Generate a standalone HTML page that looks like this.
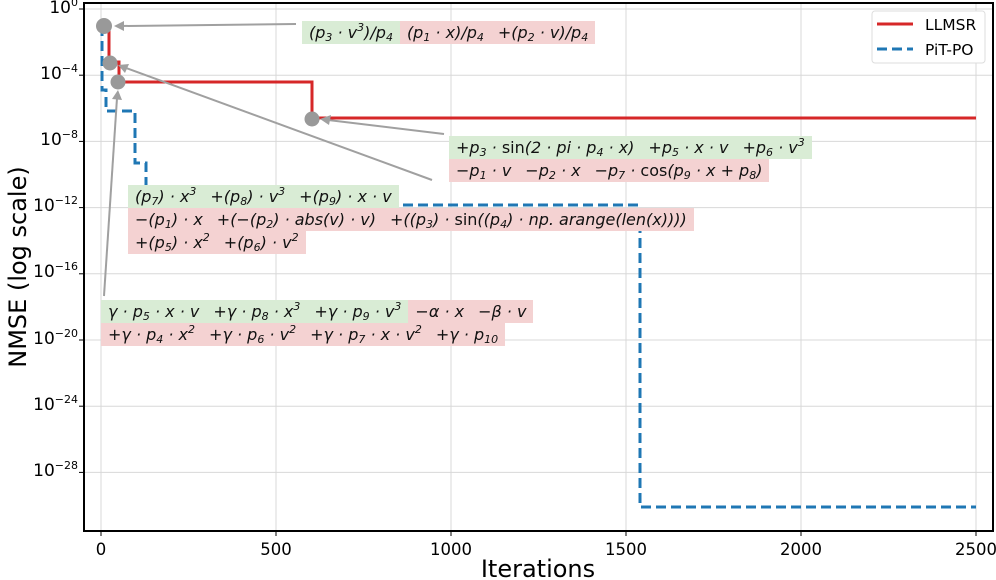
<!DOCTYPE html>
<html><head><meta charset="utf-8"><style>
body{margin:0;background:#fff;width:996px;height:580px;overflow:hidden;position:relative;font-family:"DejaVu Sans","Liberation Sans",sans-serif}
.row{position:absolute;display:flex;font-size:16px;font-style:italic;color:#111;white-space:nowrap}
.row span{padding:1px 7px;line-height:21px;height:21px}
.row span span{padding:0;background:none}
.g{background:#d9ecd5}.p{background:#f4d2d2}
.n{font-style:normal}
sup{font-size:11px;vertical-align:7px;line-height:0}
sub{font-size:11px;vertical-align:-3px;line-height:0}
.yl{position:absolute;right:918px;font-size:17px;color:#000}
.xl{position:absolute;top:540px;font-size:16.5px;width:60px;text-align:center}
</style></head><body>
<svg width="996" height="580" style="position:absolute;left:0;top:0">
<g stroke="#d8d8d8" stroke-width="1">
<line x1="101" y1="3" x2="101" y2="531"/><line x1="276" y1="3" x2="276" y2="531"/><line x1="451" y1="3" x2="451" y2="531"/><line x1="626" y1="3" x2="626" y2="531"/><line x1="801" y1="3" x2="801" y2="531"/><line x1="976" y1="3" x2="976" y2="531"/>
<line x1="84" y1="9" x2="993" y2="9"/><line x1="84" y1="75.2" x2="993" y2="75.2"/><line x1="84" y1="141.4" x2="993" y2="141.4"/><line x1="84" y1="207.6" x2="993" y2="207.6"/><line x1="84" y1="273.8" x2="993" y2="273.8"/><line x1="84" y1="340" x2="993" y2="340"/><line x1="84" y1="406.2" x2="993" y2="406.2"/><line x1="84" y1="472.4" x2="993" y2="472.4"/>
</g>
<polyline fill="none" stroke="#d62728" stroke-width="3" points="103,26 109,26 109,62 119,62 119,82 312,82 312,118 976,118"/>
<polyline fill="none" stroke="#1f77b4" stroke-width="3" stroke-dasharray="10,5" points="102,26 102,90 106,90 106,111 135,111 135,163 146,163 146,205 640,205 640,507 976,507"/>
<g stroke="#a0a0a0" stroke-width="2" fill="#a0a0a0">
<line x1="296" y1="24" x2="122" y2="26"/><polygon points="114,26 124,21 124,31" stroke="none"/>
<line x1="444" y1="134" x2="328" y2="120"/><polygon points="320,119 331,115 329,125" stroke="none"/>
<line x1="432" y1="180" x2="126" y2="68"/><polygon points="118,65 129,64 125,73" stroke="none"/>
<line x1="104" y1="296" x2="117" y2="98"/><polygon points="118,90 122,100 112,99" stroke="none"/>
</g>
<g fill="#999"><circle cx="104" cy="26" r="8"/><circle cx="110" cy="63" r="7.5"/><circle cx="118" cy="82" r="7.5"/><circle cx="312" cy="119" r="7.5"/></g>
<rect x="84" y="3" width="909" height="528" fill="none" stroke="#000" stroke-width="2"/>
<g stroke="#000"><line x1="79" y1="9" x2="84" y2="9"/><line x1="79" y1="75.2" x2="84" y2="75.2"/><line x1="79" y1="141.4" x2="84" y2="141.4"/><line x1="79" y1="207.6" x2="84" y2="207.6"/><line x1="79" y1="273.8" x2="84" y2="273.8"/><line x1="79" y1="340" x2="84" y2="340"/><line x1="79" y1="406.2" x2="84" y2="406.2"/><line x1="79" y1="472.4" x2="84" y2="472.4"/>
<line x1="101" y1="531" x2="101" y2="536"/><line x1="276" y1="531" x2="276" y2="536"/><line x1="451" y1="531" x2="451" y2="536"/><line x1="626" y1="531" x2="626" y2="536"/><line x1="801" y1="531" x2="801" y2="536"/><line x1="976" y1="531" x2="976" y2="536"/></g>
<rect x="872" y="11" width="113" height="52" rx="3" fill="#fff" stroke="#ddd"/>
<line x1="877" y1="24" x2="913" y2="24" stroke="#d62728" stroke-width="3"/>
<line x1="877" y1="49" x2="913" y2="49" stroke="#1f77b4" stroke-width="3" stroke-dasharray="10,5"/>
<text x="925" y="30" font-family="DejaVu Sans" font-size="15.5">LLMSR</text>
<text x="925" y="55" font-family="DejaVu Sans" font-size="15.5">PiT-PO</text>
<text x="538" y="577" text-anchor="middle" font-family="DejaVu Sans" font-size="24">Iterations</text>
<text transform="translate(26,267) rotate(-90)" text-anchor="middle" font-family="DejaVu Sans" font-size="24">NMSE (log scale)</text>
</svg>
<div class="yl" style="top:-2px">10<sup>0</sup></div>
<div class="yl" style="top:64px">10<sup>−4</sup></div>
<div class="yl" style="top:130px">10<sup>−8</sup></div>
<div class="yl" style="top:196px">10<sup>−12</sup></div>
<div class="yl" style="top:262px">10<sup>−16</sup></div>
<div class="yl" style="top:329px">10<sup>−20</sup></div>
<div class="yl" style="top:395px">10<sup>−24</sup></div>
<div class="yl" style="top:461px">10<sup>−28</sup></div>
<div class="xl" style="left:71px">0</div><div class="xl" style="left:246px">500</div><div class="xl" style="left:421px">1000</div><div class="xl" style="left:596px">1500</div><div class="xl" style="left:771px">2000</div><div class="xl" style="left:946px">2500</div>

<div class="row" style="left:302px;top:21px"><span class="g">(p<sub>3</sub> · v<sup>3</sup>)/p<sub>4</sub></span><span class="p">(p<sub>1</sub> · x)/p<sub>4</sub></span><span class="p">+(p<sub>2</sub> · v)/p<sub>4</sub></span></div>

<div class="row" style="left:449px;top:136px"><span class="g">+p<sub>3</sub> · <span class="n">sin</span>(2 · pi · p<sub>4</sub> · x)</span><span class="g">+p<sub>5</sub> · x · v</span><span class="g">+p<sub>6</sub> · v<sup>3</sup></span></div>
<div class="row" style="left:449px;top:159px"><span class="p">−p<sub>1</sub> · v</span><span class="p">−p<sub>2</sub> · x</span><span class="p">−p<sub>7</sub> · <span class="n">cos</span>(p<sub>9</sub> · x + p<sub>8</sub>)</span></div>

<div class="row" style="left:128px;top:185px"><span class="g">(p<sub>7</sub>) · x<sup>3</sup></span><span class="g">+(p<sub>8</sub>) · v<sup>3</sup></span><span class="g">+(p<sub>9</sub>) · x · v</span></div>
<div class="row" style="left:128px;top:208px"><span class="p">−(p<sub>1</sub>) · x</span><span class="p">+(−(p<sub>2</sub>) · abs(v) · v)</span><span class="p">+((p<sub>3</sub>) · <span class="n">sin</span>((p<sub>4</sub>) · np. arange(len(x))))</span></div>
<div class="row" style="left:128px;top:231px"><span class="p">+(p<sub>5</sub>) · x<sup>2</sup></span><span class="p">+(p<sub>6</sub>) · v<sup>2</sup></span></div>

<div class="row" style="left:101px;top:300px"><span class="g">γ · p<sub>5</sub> · x · v</span><span class="g">+γ · p<sub>8</sub> · x<sup>3</sup></span><span class="g">+γ · p<sub>9</sub> · v<sup>3</sup></span><span class="p">−α · x</span><span class="p">−β · v</span></div>
<div class="row" style="left:101px;top:323px"><span class="p">+γ · p<sub>4</sub> · x<sup>2</sup></span><span class="p">+γ · p<sub>6</sub> · v<sup>2</sup></span><span class="p">+γ · p<sub>7</sub> · x · v<sup>2</sup></span><span class="p">+γ · p<sub>10</sub></span></div>
</body></html>
